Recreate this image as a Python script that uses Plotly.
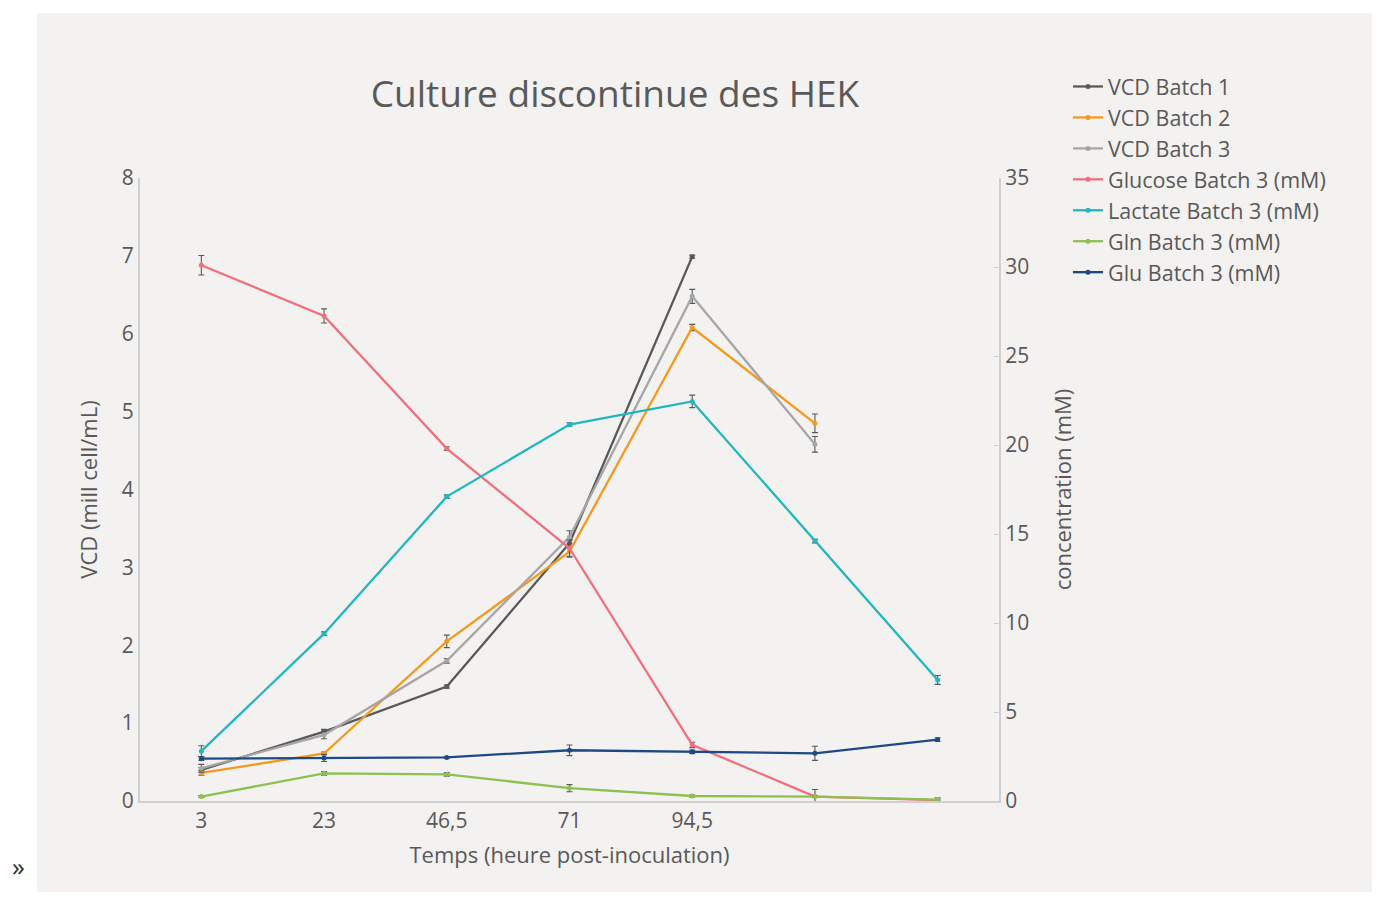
import plotly.graph_objects as go

# ---------------- data ----------------
x_labels = ["3", "23", "46,5", "71", "94,5", "", ""]
x_idx = list(range(len(x_labels)))

vcd_b1 = [0.40, 0.89, 1.47, 3.31, 6.99, None, None]
vcd_b1_err = [0.03, 0.03, 0.02, 0.05, 0.02, None, None]
vcd_b2 = [0.36, 0.61, 2.05, 3.20, 6.08, 4.85, None]
vcd_b2_err = [0.03, 0.02, 0.08, 0.07, 0.04, 0.12, None]
vcd_b3 = [0.42, 0.85, 1.80, 3.39, 6.48, 4.58, None]
vcd_b3_err = [0.05, 0.05, 0.03, 0.08, 0.09, 0.10, None]

glucose = [30.1, 27.25, 19.8, 14.2, 3.15, 0.25, 0.05]
glucose_err = [0.55, 0.40, 0.10, 0.45, 0.15, 0.40, 0.05]
lactate = [2.8, 9.4, 17.1, 21.15, 22.45, 14.6, 6.8]
lactate_err = [0.30, 0.10, 0.10, 0.10, 0.35, 0.10, 0.25]
gln = [0.25, 1.55, 1.50, 0.72, 0.28, 0.25, 0.08]
gln_err = [0.05, 0.10, 0.10, 0.20, 0.05, 0.05, 0.10]
glu = [2.38, 2.42, 2.45, 2.85, 2.76, 2.68, 3.45]
glu_err = [0.10, 0.20, 0.05, 0.30, 0.10, 0.40, 0.10]

series = [
    ("VCD Batch 1", vcd_b1, vcd_b1_err, "#595959", "y"),
    ("VCD Batch 2", vcd_b2, vcd_b2_err, "#F39A1E", "y"),
    ("VCD Batch 3", vcd_b3, vcd_b3_err, "#A6A6A6", "y"),
    ("Glucose Batch 3 (mM)", glucose, glucose_err, "#F0707E", "y2"),
    ("Lactate Batch 3 (mM)", lactate, lactate_err, "#20B7C0", "y2"),
    ("Gln Batch 3 (mM)", gln, gln_err, "#8CC152", "y2"),
    ("Glu Batch 3 (mM)", glu, glu_err, "#1B4A86", "y2"),
]

TXT = "#595959"
FONT = "Open Sans"
PANEL = "#F4F1F1"

fig = go.Figure()
for name, vals, errs, col, ax in series:
    fig.add_trace(go.Scatter(
        x=x_idx, y=vals, name=name, yaxis=ax,
        mode="lines+markers",
        line=dict(color=col, width=2.3),
        marker=dict(color=col, size=5),
        error_y=dict(type="data", array=errs, visible=True,
                     color="#595959", thickness=1.1, width=3),
        connectgaps=False,
    ))

# page offset from the browser's body margin
OFF = 8
W, H = 1399 - 2 * OFF, 900 - 2 * OFF
# plot area in page pixels: x 140..999, y 178..801
L, R, T, B = 140 - OFF, 999 - OFF, 178 - OFF, 801 - OFF
pw, ph = R - L, B - T

def px_x(p):
    return (p - OFF - L) / pw

def px_y(p):
    return (B - (p - OFF)) / ph

fig.add_shape(type="rect", xref="paper", yref="paper",
              x0=px_x(37), x1=px_x(1372), y0=px_y(905), y1=px_y(13),
              fillcolor=PANEL, line=dict(width=0), layer="below")

fig.add_annotation(text="»", xref="paper", yref="paper",
                   x=px_x(10), y=px_y(886), showarrow=False,
                   font=dict(family=FONT, size=26, color="#333333"))

fig.update_layout(
    width=W, height=H,
    margin=dict(l=L, r=W - R, t=T, b=H - B),
    paper_bgcolor="white",
    plot_bgcolor="rgba(0,0,0,0)",
    font=dict(family=FONT, color=TXT, size=21),
    title=dict(text="Culture discontinue des HEK", xref="container", yref="container",
               x=(615 - OFF) / W, y=1 - (94 - OFF) / H, xanchor="center", yanchor="middle",
               font=dict(family=FONT, size=37, color=TXT)),
    xaxis=dict(
        tickmode="array", tickvals=x_idx, ticktext=x_labels,
        range=[-0.5, len(x_labels) - 0.5],
        showline=True, linecolor="#D0D0D0", linewidth=2,
        showgrid=False, zeroline=False, ticks="",
        tickfont=dict(size=21, color=TXT),
        title=dict(text="Temps (heure post-inoculation)", font=dict(size=22, color=TXT), standoff=14),
    ),
    yaxis=dict(
        range=[0, 8], dtick=1, showline=True, linecolor="#D0D0D0", linewidth=2,
        showgrid=False, zeroline=False, ticks="",
        tickfont=dict(size=21, color=TXT),
        title=dict(text="VCD (mill cell/mL)", font=dict(size=22, color=TXT), standoff=18),
    ),
    yaxis2=dict(
        overlaying="y", side="right",
        range=[0, 35], dtick=5, showline=True, linecolor="#D0D0D0", linewidth=2,
        showgrid=False, zeroline=False, ticks="inside", ticklen=5, tickcolor="#D0D0D0",
        tickfont=dict(size=21, color=TXT),
        title=dict(text="concentration (mM)", font=dict(size=22, color=TXT), standoff=27),
    ),
    legend=dict(
        x=px_x(1068), y=px_y(66), xanchor="left", yanchor="top",
        bgcolor="rgba(0,0,0,0)", font=dict(size=21.5, color=TXT),
        itemwidth=30, tracegroupgap=0,
    ),
    showlegend=True,
)

fig.write_html("out.html")
